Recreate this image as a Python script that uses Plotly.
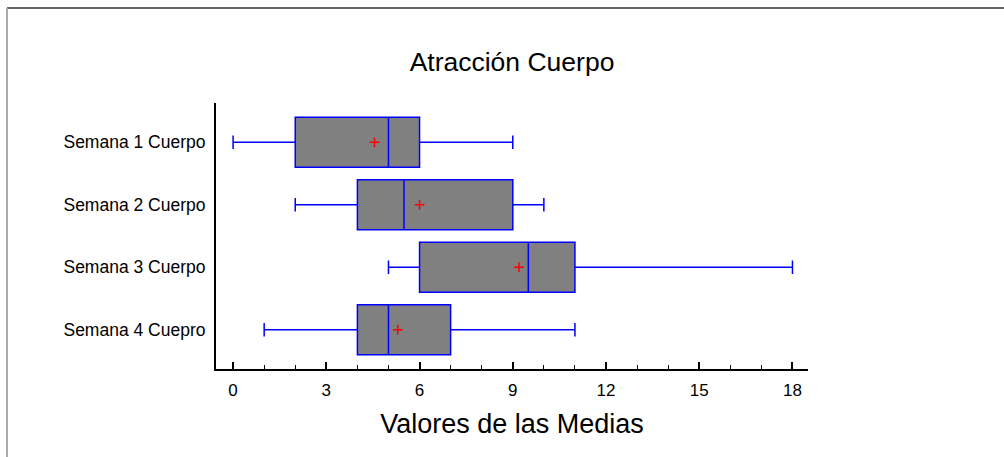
import plotly.graph_objects as go

# Weekly summary statistics for "Atracción Cuerpo"
categorias = ["Semana 1 Cuerpo", "Semana 2 Cuerpo", "Semana 3 Cuerpo", "Semana 4 Cuepro"]
minimos = [0, 2, 5, 1]
cuartil_1 = [2, 4, 6, 4]
medianas = [5, 5.5, 9.5, 5]
cuartil_3 = [6, 9, 11, 7]
maximos = [9, 10, 18, 11]
medias = [4.55, 6.0, 9.2, 5.3]

x_ticks = [0, 3, 6, 9, 12, 15, 18]

FONT = "Liberation Sans, Arial, sans-serif"

fig = go.Figure()

fig.add_trace(go.Box(
    y=categorias,
    q1=cuartil_1,
    median=medianas,
    q3=cuartil_3,
    lowerfence=minimos,
    upperfence=maximos,
    orientation="h",
    boxpoints=False,
    fillcolor="#808080",
    line=dict(color="#0000FF", width=1.5),
    whiskerwidth=0.27,
    width=0.8,
    showlegend=False,
    hoverinfo="skip",
))

fig.add_trace(go.Scatter(
    x=medias,
    y=categorias,
    mode="markers",
    marker=dict(symbol="cross-thin", size=7, line=dict(color="#FF0000", width=1.5)),
    showlegend=False,
    hoverinfo="skip",
))

fig.update_layout(
    width=1004,
    height=457,
    margin=dict(l=216, r=196, t=103, b=88),
    paper_bgcolor="white",
    plot_bgcolor="white",
    font=dict(family=FONT, color="black"),
    title=dict(
        text="Atracción Cuerpo",
        font=dict(family=FONT, size=26.5, color="black"),
        x=0.5, xref="paper",
        y=1 - 62 / 457, yref="container", yanchor="middle",
    ),
    xaxis=dict(
        range=[-0.55, 18.5],
        tickmode="array",
        tickvals=x_ticks,
        ticktext=[str(v) for v in x_ticks],
        ticks="inside",
        ticklen=7,
        tickwidth=1.5,
        tickcolor="black",
        minor=dict(dtick=1, tick0=0, ticks="inside", ticklen=4, tickwidth=1, tickcolor="black"),
        showline=True,
        linecolor="black",
        linewidth=2,
        showgrid=False,
        zeroline=False,
        tickfont=dict(family=FONT, size=17),
        ticklabelstandoff=5,
        title=dict(text="Valores de las Medias", font=dict(family=FONT, size=27), standoff=15),
    ),
    yaxis=dict(
        type="category",
        categoryorder="array",
        categoryarray=categorias,
        range=[3.63, -0.63],
        showline=True,
        linecolor="black",
        linewidth=2,
        ticks="",
        showgrid=False,
        zeroline=False,
        tickfont=dict(family=FONT, size=17.5),
        ticklabelstandoff=5,
    ),
    shapes=[
        dict(type="line", xref="paper", yref="paper",
             x0=(7 - 216) / 592, x1=(1004 - 216) / 592,
             y0=(369 - 8) / 266, y1=(369 - 8) / 266,
             line=dict(color="#666666", width=2)),
        dict(type="line", xref="paper", yref="paper",
             x0=(7 - 216) / 592, x1=(7 - 216) / 592,
             y0=(369 - 8) / 266, y1=(369 - 457) / 266,
             line=dict(color="#AAAAAA", width=2)),
    ],
)

fig.write_html("out.html")
